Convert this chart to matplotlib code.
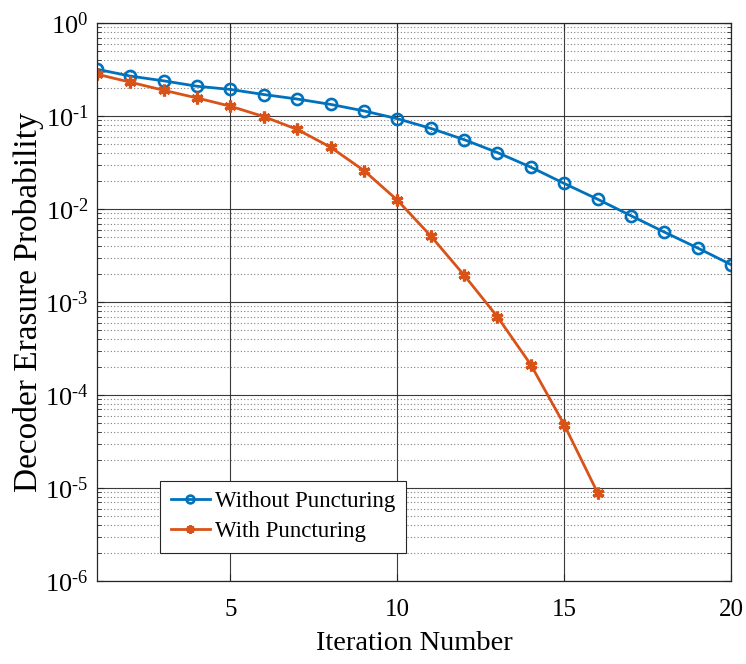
import numpy as np
import matplotlib
matplotlib.use("Agg")
import matplotlib.pyplot as plt
from matplotlib.ticker import LogLocator, FixedLocator, NullFormatter, FuncFormatter

# 데이터
iterations = list(range(1, 21))
without_punct = [0.32, 0.27, 0.24, 0.21, 0.194, 0.171, 0.153, 0.134, 0.114, 0.094,
                 0.074, 0.056, 0.0406, 0.0283, 0.0189, 0.0128, 0.0085, 0.00567, 0.00382, 0.00253]
with_iters = list(range(1, 17))
with_punct = [0.283, 0.232, 0.19, 0.157, 0.128, 0.099, 0.072, 0.0464, 0.026, 0.0125,
              0.00516, 0.00195, 0.000695, 0.000212, 4.8e-5, 8.9e-6]

x_ticks = [5, 10, 15, 20]
y_ticks = [1e-6, 1e-5, 1e-4, 1e-3, 1e-2, 1e-1, 1]
labels = ['Without Puncturing', 'With Puncturing']

plt.rcParams['font.family'] = ['Liberation Serif', 'DejaVu Serif']
plt.rcParams['mathtext.fontset'] = 'custom'
plt.rcParams['mathtext.rm'] = 'Liberation Serif'
plt.rcParams['mathtext.it'] = 'Liberation Serif'


def log_label(v, pos):
    e = int(round(np.log10(v)))
    if e < 0:
        return r'$10^{\text{-}%d}$' % (-e)
    return r'$10^{%d}$' % e


fig = plt.figure(figsize=(7.46, 6.64), dpi=100)
ax = fig.add_axes([0.130, 0.125, 0.850, 0.840])

ax.plot(iterations, without_punct, color='#0072BD', lw=2, marker='o', ms=8,
        mfc='none', mew=1.9, label=labels[0])
ax.plot(with_iters, with_punct, color='#D95319', lw=2, marker=(6, 2, 0), ms=8.5,
        mew=2.3, label=labels[1])

ax.set_yscale('log')
ax.set_xlim(1, 20)
ax.set_ylim(1e-6, 1)
ax.xaxis.set_major_locator(FixedLocator(x_ticks))
ax.yaxis.set_major_locator(FixedLocator(y_ticks))
ax.yaxis.set_major_formatter(FuncFormatter(log_label))
ax.yaxis.set_minor_locator(LogLocator(base=10, subs=np.arange(2, 10), numticks=20))
ax.yaxis.set_minor_formatter(NullFormatter())

edge = '#262626'
ax.grid(True, which='major', color=edge, lw=0.8, alpha=0.9)
ax.grid(True, which='minor', axis='y', color='#555555', lw=0.8, ls=(0, (1, 2)), alpha=0.75)
ax.tick_params(which='both', direction='in', top=True, right=True, colors=edge,
               labelcolor='black', labelsize=18)
ax.tick_params(axis='y', which='major', labelsize=19, pad=6)
ax.tick_params(which='major', length=5)
ax.tick_params(which='minor', length=3)
ax.tick_params(axis='x', which='major', pad=13)
for s in ax.spines.values():
    s.set_color(edge)
    s.set_linewidth(0.9)

ax.set_xlabel('Iteration Number', fontsize=20.5, labelpad=7)
ax.set_ylabel('Decoder Erasure Probability', fontsize=24, labelpad=1)

leg = ax.legend(loc='lower left', bbox_to_anchor=(0.1, 0.051), borderaxespad=0,
                fontsize=16.5, fancybox=False, framealpha=1, edgecolor=edge,
                borderpad=0.45, handlelength=1.7, handletextpad=0.25, labelspacing=0.4,
                markerscale=0.7)
leg.get_frame().set_linewidth(0.8)

fig.savefig('out.png', dpi=100)
